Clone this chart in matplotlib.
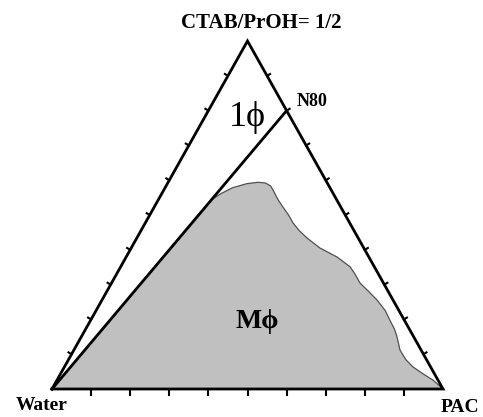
import numpy as np
import matplotlib
matplotlib.use("Agg")
import matplotlib.pyplot as plt

# ternary compositions given as (PAC fraction, CTAB/PrOH fraction); water is the rest
N80 = (0.2, 0.8)
tick_fracs = [0.1, 0.2, 0.3, 0.4, 0.5, 0.6, 0.7, 0.8, 0.9]

# boundary of the multiphase (M phi) region, from the water corner round to PAC
mphase_pac = [0.0, 0.137, 0.152, 0.172, 0.203, 0.230, 0.250, 0.268, 0.285, 0.305,
              0.329, 0.355, 0.378, 0.405, 0.435, 0.483, 0.540, 0.587, 0.610, 0.635,
              0.670, 0.703, 0.740, 0.765, 0.790, 0.808, 0.834, 0.862, 0.892, 0.930,
              0.961, 1.0]
mphase_ctab = [0.0, 0.545, 0.562, 0.578, 0.590, 0.594, 0.592, 0.583, 0.566, 0.545,
               0.523, 0.500, 0.477, 0.455, 0.434, 0.405, 0.379, 0.351, 0.330, 0.305,
               0.280, 0.256, 0.225, 0.198, 0.172, 0.149, 0.112, 0.085, 0.063, 0.042,
               0.026, 0.0]

H = np.sqrt(3) / 2


def to_xy(pac, ctab):
    pac = np.asarray(pac, dtype=float)
    ctab = np.asarray(ctab, dtype=float)
    return pac + ctab / 2, ctab * H


fig = plt.figure(figsize=(4.83, 4.17), dpi=100)
ax = fig.add_axes([52 / 483, 28 / 417, 391 / 483, 348 / 417])
ax.set_xlim(0, 1)
ax.set_ylim(0, H)
ax.axis("off")

serif = ["Liberation Serif", "DejaVu Serif"]

# grey multiphase region
mx, my = to_xy(mphase_pac, mphase_ctab)
ax.fill(mx, my, facecolor="#c0c0c0", edgecolor="#505050", linewidth=0.9,
        joinstyle="round", zorder=1)

# triangle edges
corners_pac = [0, 1, 0, 0]
corners_ctab = [0, 0, 1, 0]
tx, ty = to_xy(corners_pac, corners_ctab)
ax.plot(tx, ty, color="black", linewidth=2.0, solid_joinstyle="miter", zorder=3, clip_on=False)

# dilution line water -> N80
lx, ly = to_xy([0, N80[0]], [0, N80[1]])
ax.plot(lx, ly, color="black", linewidth=2.0, zorder=3, clip_on=False)

# edge ticks (short marks pointing out of the triangle)
tl = 0.009
for f in tick_fracs:
    # bottom edge
    x0, y0 = to_xy(f, 0)
    ax.plot([x0, x0], [y0, y0 - 0.014], color="black", linewidth=1.5, clip_on=False)
    # left edge
    x0, y0 = to_xy(0, f)
    ax.plot([x0, x0 - tl * H], [y0, y0 + tl * 0.5], color="black", linewidth=1.5, clip_on=False)
    # right edge
    x0, y0 = to_xy(1 - f, f)
    ax.plot([x0, x0 + tl * H], [y0, y0 + tl * 0.5], color="black", linewidth=1.5, clip_on=False)

# labels
ax.annotate("CTAB/PrOH= 1/2", xy=to_xy(0, 1), xytext=(14, 18), textcoords="offset pixels",
            ha="center", va="center", fontsize=15, fontweight="bold", family=serif)
ax.annotate("N80", xy=to_xy(*N80), xytext=(10, 9), textcoords="offset pixels",
            ha="left", va="center", fontsize=13, fontweight="bold", family=serif)
ax.annotate("Water", xy=to_xy(0, 0), xytext=(-10, -17), textcoords="offset pixels",
            ha="center", va="center", fontsize=14, fontweight="bold", family=serif)
ax.annotate("PAC", xy=to_xy(1, 0), xytext=(17, -18), textcoords="offset pixels",
            ha="center", va="center", fontsize=14, fontweight="bold", family=serif)

px, py = to_xy(0.11, 0.78)
ax.text(px, py, "1\u03d5", ha="center", va="center", fontsize=26, family=serif)
px, py = to_xy(0.428, 0.193)
ax.text(px, py, "M\u03d5", ha="center", va="center", fontsize=20, fontweight="bold", family=serif)

fig.savefig("out.png", dpi=100)
